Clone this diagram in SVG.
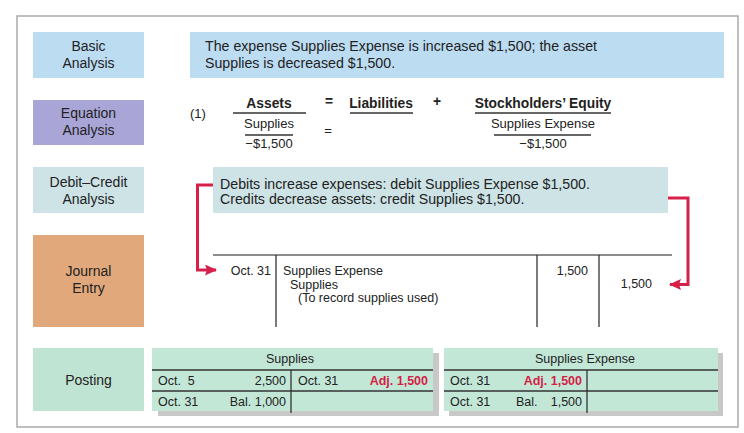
<svg xmlns="http://www.w3.org/2000/svg" width="744" height="433" viewBox="0 0 744 433">
<defs>
<style>
text{font-family:"Liberation Sans","DejaVu Sans",sans-serif;fill:#222;}
.lbl{font-size:14px;text-anchor:middle;}
.body{font-size:14.2px;}
.eq{font-size:13px;}
.eqb{font-size:13.8px;font-weight:bold;}
.jr{font-size:12.5px;}
.tt{font-size:12.5px;white-space:pre;}
.red{fill:#d21f45;font-weight:bold;}
.ln{stroke:#333;stroke-width:1.3;fill:none;}
.gl{stroke:#666;stroke-width:1.5;fill:none;}
.arr{stroke:#d6204a;stroke-width:3;fill:none;}
</style>
<marker id="ah" viewBox="0 0 12 11" refX="11" refY="5.5" markerWidth="12" markerHeight="11" orient="auto" markerUnits="userSpaceOnUse">
<path d="M0,0 L12,5.5 L0,11 L2,5.5 Z" fill="#d6204a"/>
</marker>
</defs>
<rect x="0" y="0" width="744" height="433" fill="#fff"/>
<rect x="17" y="16" width="721" height="411" fill="#fff" stroke="#aaa" stroke-width="1.5"/>

<g id="basic-label">
<rect x="33" y="32" width="111" height="46" fill="#bcdcf2"/>
<text class="lbl" x="88.5" y="51">Basic</text>
<text class="lbl" x="88.5" y="68">Analysis</text>
</g>
<g id="basic-content">
<rect x="190" y="32" width="534" height="46" fill="#bcdcf2"/>
<text class="body" x="205" y="51">The expense Supplies Expense is increased $1,500; the asset</text>
<text class="body" x="205" y="68">Supplies is decreased $1,500.</text>
</g>

<g id="equation-label">
<rect x="33" y="100" width="111" height="45" fill="#a9a6d7"/>
<text class="lbl" x="88.5" y="118">Equation</text>
<text class="lbl" x="88.5" y="135">Analysis</text>
</g>
<g id="equation-content">
<text class="eq" x="190" y="118">(1)</text>
<text class="eqb" x="269" y="108" text-anchor="middle">Assets</text>
<line class="ln" x1="233" y1="113" x2="306" y2="113"/>
<text class="eqb" x="329" y="106" text-anchor="middle">=</text>
<text class="eqb" x="381" y="108" text-anchor="middle">Liabilities</text>
<line class="ln" x1="350" y1="113" x2="413" y2="113"/>
<text class="eqb" x="437" y="106" text-anchor="middle">+</text>
<text class="eqb" x="543" y="108" text-anchor="middle">Stockholders’ Equity</text>
<line class="ln" x1="475" y1="113" x2="611" y2="113"/>
<text class="eq" x="269" y="128" text-anchor="middle">Supplies</text>
<line class="ln" x1="245" y1="135" x2="293" y2="135"/>
<text class="eq" x="269" y="148" text-anchor="middle">−$1,500</text>
<text class="eq" x="328" y="135" text-anchor="middle">=</text>
<text class="eq" x="543" y="128" text-anchor="middle">Supplies Expense</text>
<line class="ln" x1="494" y1="135" x2="591" y2="135"/>
<text class="eq" x="543" y="148" text-anchor="middle">−$1,500</text>
</g>

<g id="debit-credit-label">
<rect x="33" y="167" width="111" height="46" fill="#cde3e6"/>
<text class="lbl" x="88.5" y="187">Debit–Credit</text>
<text class="lbl" x="88.5" y="204">Analysis</text>
</g>
<g id="debit-credit-content">
<rect x="213" y="167" width="455" height="46" fill="#cde3e6"/>
<text class="body" x="220" y="189">Debits increase expenses: debit Supplies Expense $1,500.</text>
<text class="body" x="220" y="204">Credits decrease assets: credit Supplies $1,500.</text>
</g>

<g id="journal-label">
<rect x="33" y="235" width="111" height="92" fill="#e1a97b"/>
<text class="lbl" x="88.5" y="276">Journal</text>
<text class="lbl" x="88.5" y="293">Entry</text>
</g>
<g id="journal-entry">
<line class="gl" x1="213" y1="255" x2="672" y2="255"/>
<line class="ln" x1="276" y1="255" x2="276" y2="327"/>
<line class="ln" x1="537" y1="255" x2="537" y2="327"/>
<line class="ln" x1="599" y1="255" x2="599" y2="327"/>
<text class="jr" x="271" y="275" text-anchor="end">Oct. 31</text>
<text class="jr" x="283" y="275">Supplies Expense</text>
<text class="jr" x="290" y="289">Supplies</text>
<text class="jr" x="298" y="302">(To record supplies used)</text>
<text class="jr" x="588" y="275" text-anchor="end">1,500</text>
<text class="jr" x="652" y="288" text-anchor="end">1,500</text>
</g>

<g id="posting-label">
<rect x="33" y="348" width="111" height="63" fill="#bfe4d3"/>
<text class="lbl" x="88.5" y="385">Posting</text>
</g>
<g id="t-supplies">
<rect x="158" y="353" width="281" height="63" fill="#c8c8c8"/>
<rect x="152" y="348" width="281" height="63" fill="#c3e7d7"/>
<text class="tt" x="290" y="363" text-anchor="middle">Supplies</text>
<line class="ln" x1="152" y1="370" x2="433" y2="370"/>
<line class="ln" x1="152" y1="391" x2="433" y2="391"/>
<line class="ln" x1="291" y1="370" x2="291" y2="413"/>
<text class="tt" x="158" y="385">Oct.  5</text>
<text class="tt" x="286" y="385" text-anchor="end">2,500</text>
<text class="tt" x="298" y="385">Oct. 31</text>
<text class="tt red" x="428" y="385" text-anchor="end">Adj. 1,500</text>
<text class="tt" x="158" y="406">Oct. 31</text>
<text class="tt" x="286" y="406" text-anchor="end">Bal. 1,000</text>
</g>
<g id="t-supplies-expense">
<rect x="449" y="353" width="274" height="63" fill="#c8c8c8"/>
<rect x="444" y="348" width="274" height="63" fill="#c3e7d7"/>
<text class="tt" x="585" y="363" text-anchor="middle">Supplies Expense</text>
<line class="ln" x1="444" y1="370" x2="718" y2="370"/>
<line class="ln" x1="444" y1="391" x2="718" y2="391"/>
<line class="ln" x1="587" y1="370" x2="587" y2="413"/>
<text class="tt" x="450" y="385">Oct. 31</text>
<text class="tt red" x="582" y="385" text-anchor="end">Adj. 1,500</text>
<text class="tt" x="450" y="406">Oct. 31</text>
<text class="tt" x="516" y="406">Bal.</text>
<text class="tt" x="582" y="406" text-anchor="end">1,500</text>
</g>

<g id="connectors">
<path class="arr" d="M213,185 H197.5 V270 H216" marker-end="url(#ah)"/>
<path class="arr" d="M668,198 H688 V284.5 H670" marker-end="url(#ah)"/>
</g>
</svg>
